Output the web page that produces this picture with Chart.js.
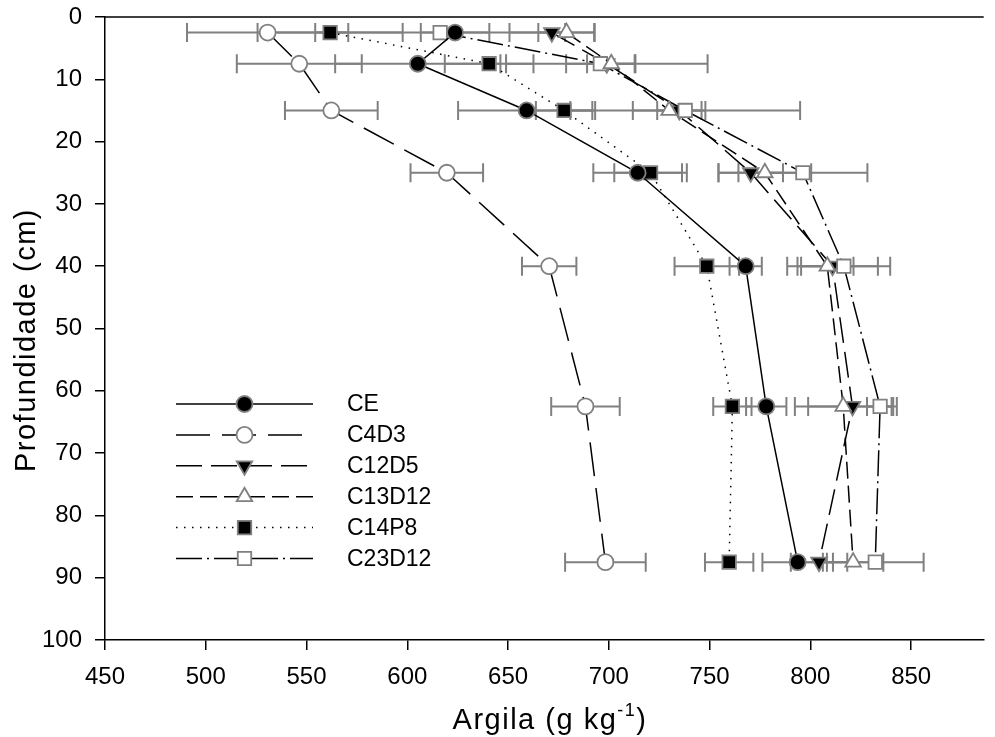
<!DOCTYPE html>
<html>
<head>
<meta charset="utf-8">
<script src="https://cdn.jsdelivr.net/npm/chart.js@4.4.0/dist/chart.umd.min.js"></script>
<style>
body{margin:0;background:#fff;}
canvas{display:block;}
</style>
</head>
<body>
<canvas id="myChart1" width="995" height="737"></canvas>
<script>
// profundidade das camadas (cm)
const depths = [2.5, 7.5, 15, 25, 40, 62.5, 87.5];

// argila (g/kg) por tratamento, com desvio (barra horizontal)
const ce        = [623.7, 605.2, 659.2, 714.3, 767.9, 778.1, 793.7];
const ceErr     = [17, 41, 34, 22, 8, 10, 17.5];
const c4d3      = [530.7, 546.4, 562.3, 619.6, 670.4, 688.4, 698.3];
const c4d3Err   = [40, 31, 23, 18, 13.5, 17, 20];
const c12d5     = [671.7, 699, 735, 770.4, 811, 820.9, 804.3];
const c12d5Err  = [21, 50, 11, 16, 22.5, 22, 14];
const c13d12    = [679, 701.2, 729.9, 777.4, 808.4, 816.3, 821.2];
const c13d12Err = [14, 12, 18, 23, 13, 24, 15];
const c14p8     = [561.7, 640.6, 677.8, 720.7, 748.6, 761.3, 759.7];
const c14p8Err  = [36, 22, 14, 18, 16, 9.5, 12];
const c23d12    = [616.3, 695.8, 737.9, 796.3, 816.6, 834.6, 832.2];
const c23d12Err = [62, 17, 57, 32, 23, 6.5, 24];

const xTicks = [450, 500, 550, 600, 650, 700, 750, 800, 850];
const yTicks = [0, 10, 20, 30, 40, 50, 60, 70, 80, 90, 100];

const GREY = '#808080';
const FONT = "'Liberation Sans', Arial, sans-serif";

function makeDataset(label, values, errs, style){
	let pts = [];
	for(var i=0;i<values.length;i=i+1){
		pts.push({x: values[i], y: depths[i]});
	}
	return {
		label: label,
		data: pts,
		errs: errs,
		order: style.order || 0,
		showLine: true,
		tension: 0,
		borderColor: '#000',
		borderWidth: 1.5,
		borderDash: style.dash,
		pointStyle: style.shape,
		pointRotation: style.rotation || 0,
		pointRadius: style.radius,
		pointHoverRadius: style.radius,
		pointBackgroundColor: style.fill,
		pointBorderColor: GREY,
		pointBorderWidth: 1.8
	};
}

// barras de erro horizontais, desenhadas antes das linhas/marcadores
const errorBars = {
	id: 'errorBars',
	beforeDatasetsDraw(chart){
		const ctx = chart.ctx;
		const xs = chart.scales.x, ys = chart.scales.y;
		ctx.save();
		ctx.strokeStyle = GREY;
		ctx.lineWidth = 2;
		chart.data.datasets.forEach(ds => {
			ds.data.forEach((p, i) => {
				let y = ys.getPixelForValue(p.y);
				let x1 = xs.getPixelForValue(p.x - ds.errs[i]);
				let x2 = xs.getPixelForValue(p.x + ds.errs[i]);
				ctx.beginPath();
				ctx.moveTo(x1, y); ctx.lineTo(x2, y);
				ctx.moveTo(x1, y - 9.5); ctx.lineTo(x1, y + 9.5);
				ctx.moveTo(x2, y - 9.5); ctx.lineTo(x2, y + 9.5);
				ctx.stroke();
			});
		});
		ctx.restore();
	}
};

// legenda com linha + marcador, moldura superior e titulos dos eixos
const decor = {
	id: 'decor',
	afterDraw(chart){
		const ctx = chart.ctx;
		const a = chart.chartArea;
		ctx.save();
		// linha superior
		ctx.strokeStyle = '#000';
		ctx.lineWidth = 1.5;
		ctx.beginPath();
		ctx.moveTo(a.left, a.top); ctx.lineTo(a.right, a.top);
		ctx.stroke();

		// legenda
		chart.data.datasets.forEach((ds, i) => {
			let y = 404 + i * 30.9;
			ctx.strokeStyle = '#000';
			ctx.lineWidth = 1.5;
			ctx.setLineDash(ds.borderDash || []);
			ctx.beginPath();
			ctx.moveTo(176, y); ctx.lineTo(313, y);
			ctx.stroke();
			ctx.setLineDash([]);
			ctx.fillStyle = ds.pointBackgroundColor;
			ctx.strokeStyle = ds.pointBorderColor;
			ctx.lineWidth = ds.pointBorderWidth;
			Chart.helpers.drawPoint(ctx, {
				pointStyle: ds.pointStyle,
				rotation: ds.pointRotation,
				radius: ds.pointRadius,
				borderWidth: ds.pointBorderWidth
			}, 244.5, y);
			ctx.fillStyle = '#000';
			ctx.font = '23px ' + FONT;
			ctx.textAlign = 'left';
			ctx.textBaseline = 'middle';
			ctx.fillText(ds.label, 347, y + 1);
		});

		// titulo eixo y
		ctx.fillStyle = '#000';
		ctx.font = '29px ' + FONT;
		ctx.letterSpacing = '1.5px';
		ctx.save();
		ctx.translate(27, 340);
		ctx.rotate(-Math.PI / 2);
		ctx.textAlign = 'center';
		ctx.textBaseline = 'middle';
		ctx.fillText('Profundidade (cm)', 0, 0);
		ctx.restore();

		// titulo eixo x com expoente
		let t1 = 'Argila (g kg', sup = '-1', t2 = ')';
		ctx.textAlign = 'left';
		ctx.textBaseline = 'alphabetic';
		ctx.font = '29px ' + FONT;
		let w1 = ctx.measureText(t1).width;
		let w3 = ctx.measureText(t2).width;
		ctx.font = '18px ' + FONT;
		let w2 = ctx.measureText(sup).width;
		let x0 = 550 - (w1 + w2 + w3) / 2;
		let base = 729;
		ctx.font = '29px ' + FONT;
		ctx.fillText(t1, x0, base);
		ctx.font = '18px ' + FONT;
		ctx.fillText(sup, x0 + w1, base - 13);
		ctx.font = '29px ' + FONT;
		ctx.fillText(t2, x0 + w1 + w2, base);
		ctx.restore();
	}
};

const datasets = [
	makeDataset('CE', ce, ceErr, {dash: [], shape: 'circle', radius: 8, fill: '#000'}),
	makeDataset('C4D3', c4d3, c4d3Err, {dash: [34, 12], shape: 'circle', radius: 8, fill: '#fff'}),
	makeDataset('C12D5', c12d5, c12d5Err, {dash: [26, 9], shape: 'triangle', rotation: 180, radius: 9, fill: '#000', order: 1}),
	makeDataset('C13D12', c13d12, c13d12Err, {dash: [17, 7], shape: 'triangle', radius: 9, fill: '#fff'}),
	makeDataset('C14P8', c14p8, c14p8Err, {dash: [1.5, 6.5], shape: 'rect', radius: 9.5, fill: '#000'}),
	makeDataset('C23D12', c23d12, c23d12Err, {dash: [26, 5, 2, 5], shape: 'rect', radius: 9.5, fill: '#fff'})
];

const axisStyle = {
	grid: {drawOnChartArea: false, drawTicks: true, tickLength: 10, color: '#000', lineWidth: 1.5},
	border: {display: true, color: '#000', width: 1.5}
};

const config = {
	type: 'scatter',
	data: {datasets: datasets},
	options: {
		responsive: false,
		animation: false,
		devicePixelRatio: 1,
		layout: {padding: {top: 17, right: 0, left: 0, bottom: 0}},
		plugins: {legend: {display: false}, tooltip: {enabled: false}},
		scales: {
			x: Object.assign({
				type: 'linear',
				position: 'bottom',
				min: 450,
				max: 886,
				afterBuildTicks: (axis) => { axis.ticks = xTicks.map(v => ({value: v})); },
				afterFit: (scale) => { scale.height = 97; scale.paddingLeft = 0; scale.paddingRight = 0; },
				ticks: {color: '#000', font: {family: FONT, size: 24}, padding: 13, maxRotation: 0}
			}, axisStyle),
			y: Object.assign({
				type: 'linear',
				position: 'left',
				reverse: true,
				min: 0,
				max: 100,
				afterBuildTicks: (axis) => { axis.ticks = yTicks.map(v => ({value: v})); },
				afterFit: (scale) => { scale.width = 105; scale.paddingTop = 0; scale.paddingBottom = 0; },
				ticks: {color: '#000', font: {family: FONT, size: 24}, padding: 13}
			}, axisStyle)
		}
	},
	plugins: [errorBars, decor]
};

const myChart1 = new Chart(document.getElementById('myChart1'), config);
</script>
</body>
</html>
